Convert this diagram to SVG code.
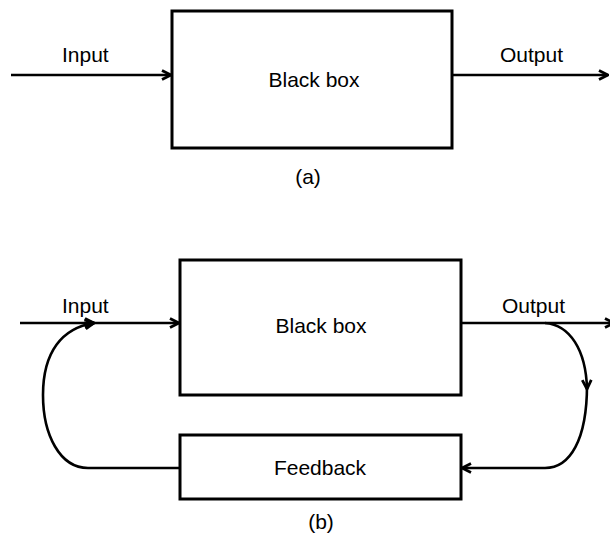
<svg xmlns="http://www.w3.org/2000/svg" width="610" height="545" viewBox="0 0 610 545">
  <defs>
    <style>
      .box { fill: #fff; stroke: #000; stroke-width: 3; }
      .wire { fill: none; stroke: #000; stroke-width: 2.6; }
      .lbl { font-family: "Liberation Sans", Arial, sans-serif; font-size: 21px; fill: #000; }
      .mid { text-anchor: middle; }
    </style>
    <marker id="arrow" viewBox="0 0 12 12" refX="11" refY="6" markerWidth="12" markerHeight="12" markerUnits="userSpaceOnUse" orient="auto">
      <path d="M2,1.5 L11,6 L2,10.5" fill="none" stroke="#000" stroke-width="2.8" stroke-linejoin="miter"/>
    </marker>
  </defs>
  <rect width="610" height="545" fill="#fff"/>

  <!-- (a) open loop -->
  <g id="connectors-a">
    <line class="wire" x1="11" y1="75" x2="171" y2="75" marker-end="url(#arrow)"/>
    <line class="wire" x1="452" y1="75" x2="608" y2="75" marker-end="url(#arrow)"/>
  </g>
  <g id="blackbox-a">
    <rect class="box" x="172" y="11" width="280" height="137"/>
    <text class="lbl mid" x="314" y="87">Black box</text>
  </g>
  <text class="lbl" x="62" y="62">Input</text>
  <text class="lbl" x="500" y="62">Output</text>
  <text class="lbl mid" x="308" y="184">(a)</text>

  <!-- (b) closed loop with feedback -->
  <g id="connectors-b">
    <line class="wire" x1="20" y1="323" x2="94" y2="323" marker-end="url(#arrow)"/>
    <line class="wire" x1="94" y1="323" x2="179" y2="323" marker-end="url(#arrow)"/>
    <line class="wire" x1="461" y1="323" x2="614" y2="323" marker-end="url(#arrow)"/>
    <!-- output tapped back down to feedback -->
    <path class="wire" d="M545,323 C570,325 586,350 587,389" marker-end="url(#arrow)"/>
    <path class="wire" d="M587,385 C587,440 570,468 545,468 L462,468" marker-end="url(#arrow)"/>
    <!-- feedback returned to input -->
    <path class="wire" d="M180,468 L88,468 C60,468 43,435 43,395 C43,352 62,328 94,323" marker-end="url(#arrow)"/>
  </g>
  <g id="blackbox-b">
    <rect class="box" x="180" y="260" width="281" height="135"/>
    <text class="lbl mid" x="321" y="333">Black box</text>
  </g>
  <g id="feedback">
    <rect class="box" x="180" y="435" width="281" height="64"/>
    <text class="lbl mid" x="320" y="475">Feedback</text>
  </g>
  <text class="lbl" x="62" y="313">Input</text>
  <text class="lbl" x="502" y="313">Output</text>
  <text class="lbl mid" x="321" y="529">(b)</text>
</svg>
